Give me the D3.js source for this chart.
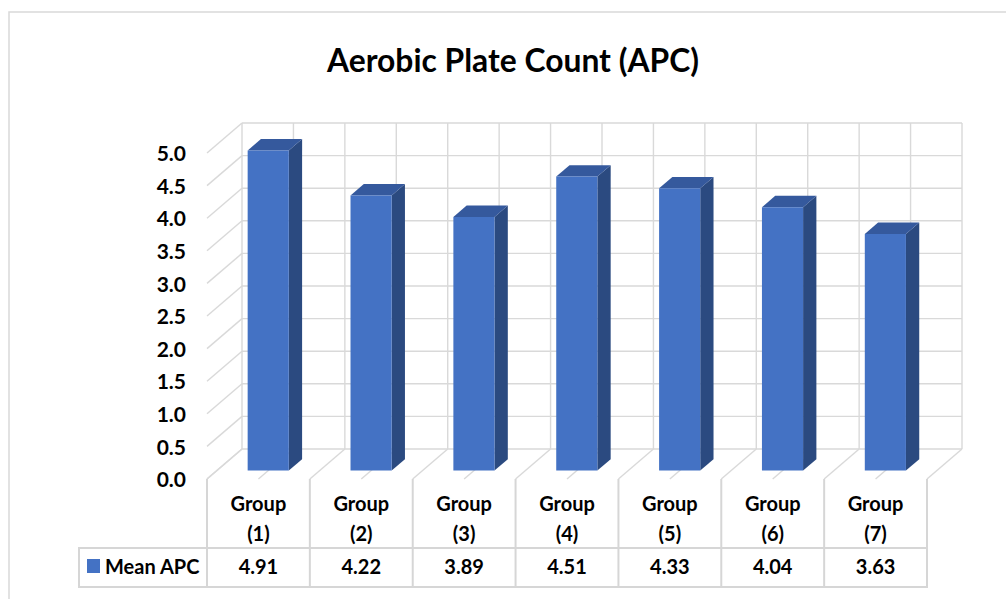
<!DOCTYPE html>
<html>
<head>
<meta charset="utf-8">
<script src="https://cdn.jsdelivr.net/npm/d3@7"></script>
<style>
  html, body { margin: 0; padding: 0; background: #fff; }
  svg text { font-family: Lato, "Open Sans", sans-serif; font-weight: 700; fill: #000; }
</style>
</head>
<body>
<svg id="chart" width="1006" height="599"></svg>
<script>
// Chart data
const categories = ["Group (1)", "Group (2)", "Group (3)", "Group (4)", "Group (5)", "Group (6)", "Group (7)"];
const meanAPC = [4.91, 4.22, 3.89, 4.51, 4.33, 4.04, 3.63];
const seriesName = "Mean APC";
const yTickValues = [0, 0.5, 1, 1.5, 2, 2.5, 3, 3.5, 4, 4.5, 5];
const chartTitle = "Aerobic Plate Count (APC)";

(function draw() {
  const svg = d3.select("#chart");

  // Front plane of the 3D plot box
  const plotLeft = 207, plotRight = 927, plotBottom = 479, plotTop = 153;
  // Oblique offset from the front plane to the back wall
  const DX = 35, DY = -30;
  const proj = (px, py, d) => [px + DX * d, py + DY * d];
  // Depth span occupied by the columns
  const d1 = 0.28, d2 = 0.66;

  const x = d3.scaleBand().domain(categories).range([plotLeft, plotRight])
    .paddingInner(0.6).paddingOuter(0.3);
  const y = d3.scaleLinear().domain([0, 5]).range([plotBottom, plotTop]);
  const step = x.step();

  const grid = "#d9d9d9";
  const line = d3.line();

  // Outer chart border
  svg.append("rect").attr("x", 9).attr("y", 12).attr("width", 1010).attr("height", 620)
    .attr("fill", "#fff").attr("stroke", "#d9d9d9").attr("stroke-width", 1.5);

  // Title
  svg.append("text").attr("x", 513).attr("y", 72).attr("text-anchor", "middle")
    .attr("font-size", 33).attr("textLength", 372).attr("lengthAdjust", "spacingAndGlyphs")
    .text(chartTitle);

  const walls = svg.append("g").attr("fill", "none").attr("stroke", grid).attr("stroke-width", 1.4);

  // Back wall horizontal gridlines and side wall lines
  yTickValues.forEach(v => {
    walls.append("path").attr("d", line([proj(plotLeft, y(v), 1), proj(plotRight, y(v), 1)]));
    walls.append("path").attr("d", line([proj(plotLeft, y(v), 0), proj(plotLeft, y(v), 1)]));
  });

  // Back wall vertical gridlines and floor lines at every half category
  const halfSteps = d3.range(0, categories.length * 2 + 1).map(i => plotLeft + i * step / 2);
  halfSteps.forEach(xv => {
    walls.append("path").attr("d", line([proj(xv, y(0), 1), proj(xv, y(5), 1)]));
    walls.append("path").attr("d", line([proj(xv, y(0), 0), proj(xv, y(0), 1)]));
  });

  // Value axis labels
  const yAxis = d3.axisLeft(y).tickValues(yTickValues).tickFormat(d3.format(".1f"))
    .tickSize(0).tickPadding(0);
  const gy = svg.append("g").attr("transform", "translate(186,1)").call(yAxis);
  gy.select(".domain").remove();
  gy.selectAll("text").attr("font-size", 21).attr("font-family", "Lato, sans-serif")
    .attr("font-weight", 700).attr("fill", "#000");

  // 3D columns
  const colFront = "#4472c4", colTop = "#35599d", colSide = "#2b4a80";
  const bars = svg.append("g");
  categories.forEach((c, i) => {
    const v = meanAPC[i];
    const x0 = x(c), x1 = x(c) + x.bandwidth();
    const y0 = y(0), y1 = y(v);
    const g = bars.append("g");
    g.append("path").attr("fill", colSide).attr("d", line([
      proj(x1, y0, d1), proj(x1, y0, d2), proj(x1, y1, d2), proj(x1, y1, d1)
    ]) + "Z");
    g.append("path").attr("fill", colTop).attr("d", line([
      proj(x0, y1, d1), proj(x1, y1, d1), proj(x1, y1, d2), proj(x0, y1, d2)
    ]) + "Z");
    g.append("path").attr("fill", colFront).attr("d", line([
      proj(x0, y0, d1), proj(x1, y0, d1), proj(x1, y1, d1), proj(x0, y1, d1)
    ]) + "Z");
  });

  // Data table under the plot
  const tbl = svg.append("g");
  const tLine = "#d6d6d6";
  const rowTop = 548, rowBottom = 587, tableLeft = 79;
  const colEdges = d3.range(0, categories.length + 1).map(i => plotLeft + i * step);
  colEdges.forEach(xv => {
    tbl.append("line").attr("x1", xv).attr("x2", xv).attr("y1", plotBottom).attr("y2", rowBottom)
      .attr("stroke", tLine).attr("stroke-width", 2);
  });
  tbl.append("rect").attr("x", tableLeft).attr("y", rowTop).attr("width", plotRight - tableLeft)
    .attr("height", rowBottom - rowTop).attr("fill", "none").attr("stroke", tLine).attr("stroke-width", 2);

  // Category headers on two lines
  categories.forEach((c, i) => {
    const mid = colEdges[i] + step / 2;
    const parts = c.split(" ");
    tbl.append("text").attr("x", mid).attr("y", 511).attr("text-anchor", "middle")
      .attr("font-size", 20).text(parts[0]);
    tbl.append("text").attr("x", mid).attr("y", 541).attr("text-anchor", "middle")
      .attr("font-size", 20).text(parts[1]);
  });

  // Series row: legend key, name and values
  tbl.append("rect").attr("x", 87).attr("y", 559).attr("width", 13).attr("height", 14).attr("fill", colFront);
  tbl.append("text").attr("x", 105).attr("y", 574).attr("font-size", 20).text(seriesName);
  meanAPC.forEach((v, i) => {
    tbl.append("text").attr("x", colEdges[i] + step / 2).attr("y", 574).attr("text-anchor", "middle")
      .attr("font-size", 20).text(d3.format(".2f")(v));
  });
})();
</script>
</body>
</html>
